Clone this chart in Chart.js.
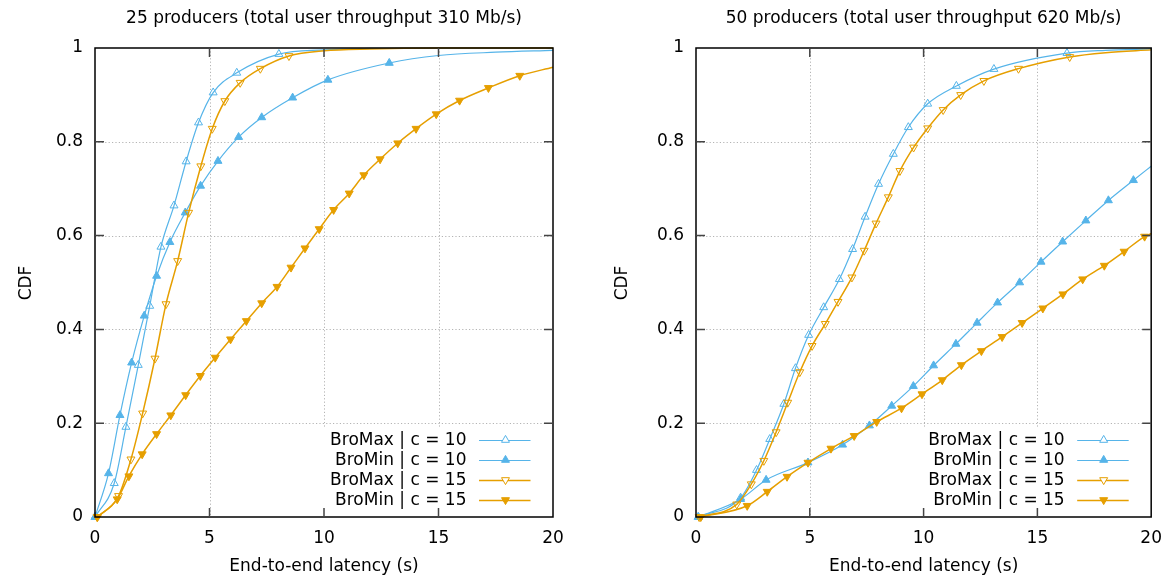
<!DOCTYPE html>
<html><head><meta charset="utf-8">
<script src="https://cdn.jsdelivr.net/npm/chart.js@4/dist/chart.umd.min.js"></script>
<style>
html,body{margin:0;padding:0;background:#fff;}
#wrap{position:relative;width:1173px;height:581px;overflow:hidden;background:#fff;}
#c1{position:absolute;left:0;top:0;width:590px;height:581px;}
#c2{position:absolute;left:600px;top:0;width:573px;height:581px;}
</style></head><body>
<div id="wrap"><canvas id="c1" width="590" height="581"></canvas><canvas id="c2" width="573" height="581"></canvas></div>
<script>
// ---------- data ----------
const seriesLabels = ['BroMax | c = 10', 'BroMin | c = 10', 'BroMax | c = 15', 'BroMin | c = 15'];
const panelTitles = ['25 producers (total user throughput 310 Mb/s)', '50 producers (total user throughput 620 Mb/s)'];
const xAxisTitle = 'End-to-end latency (s)';
const yAxisTitle = 'CDF';
const xTickVals = [0, 5, 10, 15, 20];
const xTickLabels = ['0', '5', '10', '15', '20'];
const yTickVals = [0, 0.2, 0.4, 0.6, 0.8, 1];
const yTickLabels = ['0', '0.2', '0.4', '0.6', '0.8', '1'];

// Left panel (25 producers) — marked points, then unmarked tail
const L_max10_x = [0, 0.84, 1.35, 1.89, 2.39, 2.88, 3.45, 3.98, 4.52, 5.16, 6.19, 8.03];
const L_max10_y = [0, 0.072, 0.192, 0.324, 0.45, 0.576, 0.664, 0.758, 0.841, 0.905, 0.947, 0.987];
const L_max10_tx = [10, 12, 15, 20];
const L_max10_ty = [0.996, 0.999, 1, 1];

const L_min10_x = [0, 0.59, 1.09, 1.60, 2.15, 2.69, 3.27, 3.94, 4.61, 5.37, 6.27, 7.28, 8.63, 10.17, 12.85];
const L_min10_y = [0, 0.093, 0.217, 0.329, 0.429, 0.514, 0.586, 0.649, 0.706, 0.759, 0.81, 0.852, 0.894, 0.932, 0.968];
const L_min10_tx = [15, 17.5, 20];
const L_min10_ty = [0.984, 0.991, 0.995];

const L_max15_x = [0.1, 1.03, 1.57, 2.08, 2.62, 3.10, 3.61, 4.09, 4.62, 5.12, 5.67, 6.34, 7.22, 8.47];
const L_max15_y = [0, 0.045, 0.123, 0.221, 0.338, 0.454, 0.546, 0.649, 0.748, 0.828, 0.887, 0.926, 0.956, 0.983];
const L_max15_tx = [10, 12, 15, 20];
const L_max15_ty = [0.994, 0.998, 1, 1];

const L_min15_x = [0.1, 0.97, 1.48, 2.06, 2.69, 3.31, 3.96, 4.6, 5.25, 5.92, 6.61, 7.28, 7.95, 8.56, 9.17, 9.79, 10.42, 11.1, 11.74, 12.45, 13.22, 14.02, 14.9, 15.92, 17.18, 18.55];
const L_min15_y = [0, 0.038, 0.087, 0.134, 0.177, 0.217, 0.26, 0.301, 0.34, 0.379, 0.418, 0.456, 0.491, 0.532, 0.573, 0.614, 0.655, 0.69, 0.729, 0.763, 0.797, 0.828, 0.859, 0.888, 0.915, 0.941];
const L_min15_tx = [20];
const L_min15_ty = [0.959];

// Right panel (50 producers)
const R_max10_x = [0.1, 1.96, 2.66, 3.24, 3.86, 4.37, 4.95, 5.61, 6.3, 6.88, 7.43, 8.02, 8.67, 9.33, 10.18, 11.44, 13.09, 16.3];
const R_max10_y = [0, 0.041, 0.1, 0.166, 0.241, 0.317, 0.388, 0.447, 0.507, 0.571, 0.64, 0.71, 0.774, 0.831, 0.881, 0.919, 0.955, 0.989];
const R_max10_tx = [18, 20];
const R_max10_ty = [0.995, 0.998];

const R_min10_x = [0.1, 1.96, 3.08, 4.92, 6.44, 7.62, 8.6, 9.55, 10.44, 11.42, 12.35, 13.25, 14.22, 15.16, 16.11, 17.13, 18.12, 19.22];
const R_min10_y = [0, 0.038, 0.079, 0.116, 0.154, 0.195, 0.237, 0.279, 0.323, 0.369, 0.414, 0.457, 0.5, 0.544, 0.587, 0.632, 0.675, 0.718];
const R_min10_tx = [20];
const R_min10_ty = [0.748];

const R_max15_x = [0.14, 1.79, 2.43, 2.98, 3.52, 4.03, 4.56, 5.1, 5.68, 6.24, 6.85, 7.39, 7.91, 8.45, 8.96, 9.56, 10.18, 10.86, 11.63, 12.65, 14.17, 16.42];
const R_max15_y = [0, 0.027, 0.07, 0.12, 0.181, 0.244, 0.309, 0.365, 0.412, 0.459, 0.511, 0.568, 0.626, 0.682, 0.738, 0.788, 0.829, 0.868, 0.9, 0.93, 0.956, 0.981];
const R_max15_tx = [18, 20];
const R_max15_ty = [0.99, 0.996];

const R_min15_x = [0.21, 2.25, 3.13, 4.0, 4.92, 5.93, 6.95, 7.94, 9.03, 9.93, 10.82, 11.66, 12.54, 13.45, 14.33, 15.24, 16.12, 16.99, 17.94, 18.81, 19.71];
const R_min15_y = [0, 0.024, 0.054, 0.086, 0.116, 0.146, 0.173, 0.203, 0.232, 0.262, 0.292, 0.324, 0.354, 0.384, 0.414, 0.445, 0.475, 0.507, 0.536, 0.566, 0.598];
const R_min15_tx = [20];
const R_min15_ty = [0.604];

// ---------- styling ----------
const FONT = '"DejaVu Sans", "Liberation Sans", sans-serif';
const FS = 17;
const BLUE = '#56b4e9', ORANGE = '#e69f00';
const styles = [
  {color: BLUE, width: 1.2, filled: false, down: false},
  {color: BLUE, width: 1.2, filled: true, down: false},
  {color: ORANGE, width: 1.5, filled: false, down: true},
  {color: ORANGE, width: 1.5, filled: true, down: true}
];
const MR = 4.6;

function triangle(ctx, x, y, r, down) {
  const rot = down ? Math.PI : 0;
  ctx.beginPath();
  for (let k = 0; k < 3; k++) {
    const a = rot + k * 2 * Math.PI / 3;
    const px = x + Math.sin(a) * r, py = y - Math.cos(a) * r;
    if (k === 0) ctx.moveTo(px, py); else ctx.lineTo(px, py);
  }
  ctx.closePath();
}

function makeDataset(i, xs, ys, txs, tys) {
  const st = styles[i];
  const data = xs.map((x, j) => ({x: x, y: ys[j]})).concat(txs.map((x, j) => ({x: x, y: tys[j]})));
  const radii = data.map((_, j) => j < xs.length ? MR : 0);
  return {
    label: seriesLabels[i],
    data: data,
    borderColor: st.color,
    borderWidth: st.width,
    pointStyle: 'triangle',
    pointRotation: st.down ? 180 : 0,
    pointRadius: radii,
    pointHoverRadius: radii,
    pointBorderColor: st.color,
    pointBackgroundColor: st.filled ? st.color : 'rgba(0,0,0,0)',
    pointBorderWidth: 1,
    cubicInterpolationMode: 'monotone',
    fill: false,
    clip: 8,
    order: 3 - i
  };
}

const decoPlugin = {
  id: 'deco',
  beforeDatasetsDraw(chart, args, o) {
    const ctx = chart.ctx, a = chart.chartArea, xs = chart.scales.x, ys = chart.scales.y;
    ctx.save();
    ctx.strokeStyle = '#b4b4b4';
    ctx.lineWidth = 1;
    ctx.setLineDash([1.2, 2.2]);
    xTickVals.slice(1, -1).forEach(v => {
      const px = Math.round(xs.getPixelForValue(v)) + 0.5;
      ctx.beginPath(); ctx.moveTo(px, a.top); ctx.lineTo(px, a.bottom); ctx.stroke();
    });
    yTickVals.slice(1, -1).forEach(v => {
      const py = Math.round(ys.getPixelForValue(v)) + 0.5;
      ctx.beginPath(); ctx.moveTo(a.left, py); ctx.lineTo(a.right, py); ctx.stroke();
    });
    ctx.restore();
  },
  afterDatasetsDraw(chart, args, o) {
    const ctx = chart.ctx, a = chart.chartArea, xs = chart.scales.x, ys = chart.scales.y;
    ctx.save();
    // legend (opaque key)
    ctx.font = FS + 'px ' + FONT;
    const textRight = a.right - 86.5;
    let maxW = 0;
    seriesLabels.forEach(l => { maxW = Math.max(maxW, ctx.measureText(l).width); });
    const boxL = Math.min(textRight - maxW - 9, o.boxMaxLeft);
    ctx.fillStyle = '#fff';
    ctx.fillRect(boxL, 427, a.right - boxL, a.bottom - 427);
    const rows = [440, 460, 480, 500];
    seriesLabels.forEach((l, i) => {
      const st = styles[i], y = rows[i];
      ctx.fillStyle = '#000';
      ctx.textAlign = 'right';
      ctx.textBaseline = 'middle';
      ctx.fillText(l, textRight, y + 1);
      ctx.strokeStyle = st.color;
      ctx.lineWidth = st.width;
      ctx.beginPath(); ctx.moveTo(a.right - 74, y + 0.5); ctx.lineTo(a.right - 22.5, y + 0.5); ctx.stroke();
      triangle(ctx, a.right - 47.5, y, MR, st.down);
      ctx.lineWidth = 1;
      if (st.filled) { ctx.fillStyle = st.color; ctx.fill(); }
      else { ctx.fillStyle = '#fff'; ctx.fill(); }
      ctx.stroke();
    });
    // frame
    ctx.strokeStyle = '#000';
    ctx.lineWidth = 1.5;
    ctx.strokeRect(a.left, a.top, a.right - a.left, a.bottom - a.top);
    // inward ticks, mirrored
    ctx.strokeStyle = '#444';
    ctx.lineWidth = 1.5;
    const TL = 9;
    xTickVals.slice(1, -1).forEach(v => {
      const px = xs.getPixelForValue(v);
      ctx.beginPath();
      ctx.moveTo(px, a.bottom); ctx.lineTo(px, a.bottom - TL);
      ctx.moveTo(px, a.top); ctx.lineTo(px, a.top + TL);
      ctx.stroke();
    });
    yTickVals.slice(1, -1).forEach(v => {
      const py = ys.getPixelForValue(v);
      ctx.beginPath();
      ctx.moveTo(a.left, py); ctx.lineTo(a.left + TL, py);
      ctx.moveTo(a.right, py); ctx.lineTo(a.right - TL, py);
      ctx.stroke();
    });
    ctx.restore();
  },
  afterDraw(chart, args, o) {
    const ctx = chart.ctx, a = chart.chartArea;
    ctx.save();
    ctx.fillStyle = '#000';
    ctx.font = FS + 'px ' + FONT;
    ctx.textAlign = 'center';
    ctx.textBaseline = 'middle';
    const cx = (a.left + a.right) / 2;
    ctx.fillText(o.title, cx, 19);
    ctx.fillText(xAxisTitle, cx, 567);
    ctx.translate(o.cdfX, 283);
    ctx.rotate(-Math.PI / 2);
    ctx.fillText(yAxisTitle, 0, 0);
    ctx.restore();
  }
};

function makeChart(id, title, datasets, padRight, yWidth, cdfX, boxMaxLeft) {
  return new Chart(document.getElementById(id), {
    type: 'line',
    data: {datasets: datasets},
    plugins: [decoPlugin],
    options: {
      responsive: false,
      animation: false,
      events: [],
      layout: {padding: {left: 0, top: 48, right: padRight, bottom: 0}},
      plugins: {
        legend: {display: false},
        tooltip: {enabled: false},
        title: {display: false},
        deco: {title: title, cdfX: cdfX, boxMaxLeft: boxMaxLeft}
      },
      scales: {
        x: {
          type: 'linear', min: 0, max: 20,
          afterBuildTicks: s => { s.ticks = xTickVals.map(v => ({value: v})); },
          afterFit: s => { s.height = 64; },
          grid: {display: false, drawTicks: false},
          border: {display: false},
          ticks: {padding: 11, color: '#000', font: {family: FONT, size: FS}, maxRotation: 0, autoSkip: false,
                  callback: (v, i) => xTickLabels[i]}
        },
        y: {
          type: 'linear', min: 0, max: 1,
          afterBuildTicks: s => { s.ticks = yTickVals.map(v => ({value: v})); },
          afterFit: s => { s.width = yWidth; },
          grid: {display: false, drawTicks: false},
          border: {display: false},
          ticks: {padding: 12, color: '#000', font: {family: FONT, size: FS}, autoSkip: false,
                  callback: (v, i) => yTickLabels[i]}
        }
      }
    }
  });
}

makeChart('c1', panelTitles[0], [
  makeDataset(0, L_max10_x, L_max10_y, L_max10_tx, L_max10_ty),
  makeDataset(1, L_min10_x, L_min10_y, L_min10_tx, L_min10_ty),
  makeDataset(2, L_max15_x, L_max15_y, L_max15_tx, L_max15_ty),
  makeDataset(3, L_min15_x, L_min15_y, L_min15_tx, L_min15_ty)
], 590 - 553, 95, 27, 322);

makeChart('c2', panelTitles[1], [
  makeDataset(0, R_max10_x, R_max10_y, R_max10_tx, R_max10_ty),
  makeDataset(1, R_min10_x, R_min10_y, R_min10_tx, R_min10_ty),
  makeDataset(2, R_max15_x, R_max15_y, R_max15_tx, R_max15_ty),
  makeDataset(3, R_min15_x, R_min15_y, R_min15_tx, R_min15_ty)
], 573 - 555, 96, 23, 323);
</script>
</body></html>
